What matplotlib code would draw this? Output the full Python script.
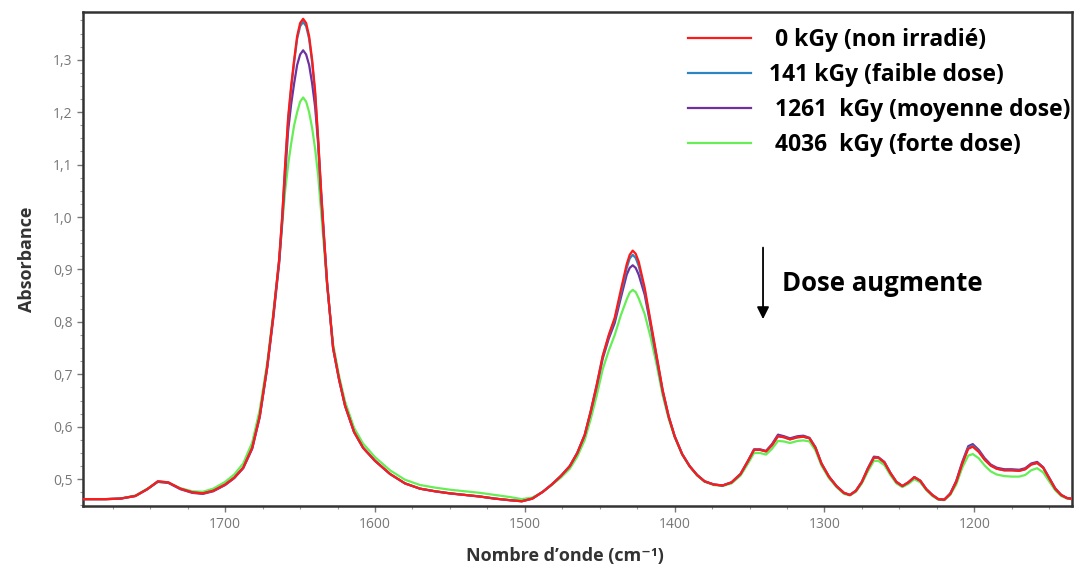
import matplotlib
matplotlib.use("Agg")
from matplotlib import pyplot as plt
from matplotlib.ticker import FuncFormatter, MultipleLocator

# --- Spectres IR (nombre d'onde en cm-1, absorbance) ---
wavenumber = [
    1795, 1780, 1770, 1760, 1752, 1745, 1738, 1730, 1722, 1715, 1708, 1700,
    1694, 1688, 1682, 1677, 1672, 1668,
    1664, 1662, 1660, 1658, 1656, 1654, 1652, 1650, 1648, 1646, 1644, 1642,
    1640, 1638, 1636, 1634, 1632,
    1628, 1624, 1620, 1614, 1608, 1600, 1590, 1580, 1570,
    1560, 1550, 1540, 1530, 1520, 1510, 1502, 1495, 1488, 1482, 1476, 1470,
    1465, 1460, 1456, 1452, 1448, 1444, 1440, 1436, 1432, 1430, 1428, 1426,
    1424, 1420,
    1416, 1412, 1408, 1404, 1400, 1395, 1390, 1385, 1380, 1374, 1368, 1362,
    1356, 1351, 1347, 1343, 1339, 1335, 1331, 1327, 1323, 1318, 1314, 1310,
    1306, 1302, 1297, 1292, 1287, 1283, 1279, 1275, 1271, 1267, 1264, 1260,
    1256, 1252, 1248, 1244, 1240, 1236, 1232, 1228, 1224, 1220, 1216, 1212,
    1208, 1204, 1201, 1197, 1193, 1189, 1185, 1180, 1175, 1170, 1166, 1162,
    1158, 1154, 1150, 1146, 1142, 1138, 1135,
]

abs_0kgy = [
    0.462, 0.462, 0.463, 0.468, 0.481, 0.496, 0.494, 0.482, 0.475, 0.473, 0.478, 0.490,
    0.503, 0.522, 0.560, 0.620, 0.714, 0.810,
    0.920, 1.000, 1.100, 1.190, 1.250, 1.300, 1.345, 1.370, 1.378, 1.370, 1.345, 1.300,
    1.240, 1.150, 1.050, 0.960, 0.875,
    0.750, 0.690, 0.640, 0.590, 0.560, 0.535, 0.510, 0.492, 0.482,
    0.477, 0.473, 0.470, 0.467, 0.463, 0.460, 0.458, 0.463, 0.476, 0.490, 0.506, 0.525,
    0.550, 0.585, 0.630, 0.680, 0.735, 0.775, 0.808, 0.860, 0.910, 0.928, 0.936, 0.930,
    0.915, 0.865,
    0.800, 0.735, 0.670, 0.620, 0.582, 0.548, 0.525, 0.508, 0.496, 0.490, 0.488, 0.494,
    0.510, 0.535, 0.556, 0.556, 0.553, 0.565, 0.582, 0.580, 0.576, 0.580, 0.581, 0.578,
    0.560, 0.530, 0.505, 0.487, 0.474, 0.470, 0.478, 0.495, 0.520, 0.541, 0.541, 0.532,
    0.512, 0.495, 0.487, 0.494, 0.504, 0.497, 0.481, 0.470, 0.462, 0.461, 0.472, 0.495,
    0.530, 0.558, 0.562, 0.552, 0.537, 0.526, 0.520, 0.517, 0.517, 0.516, 0.519, 0.528,
    0.531, 0.522, 0.502, 0.482, 0.470, 0.464, 0.463,
]

abs_141kgy = [
    0.462, 0.462, 0.463, 0.468, 0.481, 0.496, 0.494, 0.482, 0.475, 0.473, 0.478, 0.490,
    0.503, 0.522, 0.560, 0.620, 0.714, 0.810,
    0.918, 0.998, 1.097, 1.185, 1.245, 1.295, 1.340, 1.364, 1.372, 1.364, 1.340, 1.295,
    1.235, 1.147, 1.048, 0.958, 0.875,
    0.750, 0.690, 0.640, 0.590, 0.560, 0.535, 0.510, 0.492, 0.482,
    0.477, 0.473, 0.470, 0.467, 0.463, 0.460, 0.458, 0.463, 0.476, 0.490, 0.506, 0.525,
    0.550, 0.585, 0.630, 0.680, 0.735, 0.773, 0.805, 0.853, 0.903, 0.921, 0.928, 0.922,
    0.907, 0.860,
    0.797, 0.733, 0.669, 0.620, 0.582, 0.548, 0.525, 0.508, 0.496, 0.490, 0.488, 0.494,
    0.510, 0.535, 0.556, 0.556, 0.553, 0.565, 0.582, 0.580, 0.576, 0.580, 0.581, 0.578,
    0.560, 0.530, 0.505, 0.487, 0.474, 0.470, 0.478, 0.495, 0.520, 0.541, 0.541, 0.532,
    0.512, 0.495, 0.487, 0.494, 0.504, 0.497, 0.481, 0.470, 0.462, 0.461, 0.472, 0.495,
    0.530, 0.560, 0.564, 0.553, 0.537, 0.526, 0.520, 0.517, 0.517, 0.516, 0.519, 0.528,
    0.531, 0.522, 0.502, 0.482, 0.470, 0.464, 0.463,
]

abs_1261kgy = [
    0.462, 0.462, 0.463, 0.468, 0.481, 0.495, 0.493, 0.481, 0.474, 0.472, 0.477, 0.489,
    0.502, 0.521, 0.558, 0.618, 0.712, 0.805,
    0.912, 0.990, 1.080, 1.165, 1.215, 1.255, 1.290, 1.310, 1.318, 1.310, 1.290, 1.255,
    1.210, 1.140, 1.040, 0.955, 0.872,
    0.750, 0.690, 0.640, 0.590, 0.560, 0.535, 0.510, 0.492, 0.482,
    0.477, 0.473, 0.470, 0.467, 0.463, 0.460, 0.458, 0.463, 0.476, 0.490, 0.506, 0.525,
    0.550, 0.584, 0.628, 0.677, 0.730, 0.768, 0.798, 0.845, 0.890, 0.903, 0.908, 0.903,
    0.890, 0.852,
    0.792, 0.730, 0.667, 0.619, 0.582, 0.548, 0.525, 0.508, 0.496, 0.490, 0.488, 0.494,
    0.510, 0.535, 0.557, 0.557, 0.554, 0.567, 0.585, 0.582, 0.578, 0.582, 0.583, 0.579,
    0.561, 0.530, 0.505, 0.487, 0.474, 0.470, 0.478, 0.495, 0.521, 0.543, 0.542, 0.533,
    0.512, 0.495, 0.487, 0.494, 0.504, 0.497, 0.481, 0.470, 0.462, 0.461, 0.473, 0.497,
    0.533, 0.563, 0.567, 0.556, 0.540, 0.528, 0.522, 0.519, 0.519, 0.518, 0.521, 0.530,
    0.533, 0.523, 0.503, 0.483, 0.470, 0.464, 0.463,
]

abs_4036kgy = [
    0.462, 0.462, 0.463, 0.469, 0.482, 0.495, 0.493, 0.483, 0.477, 0.476, 0.482, 0.495,
    0.509, 0.530, 0.570, 0.632, 0.722, 0.815,
    0.915, 0.985, 1.050, 1.100, 1.140, 1.175, 1.200, 1.220, 1.228, 1.220, 1.200, 1.170,
    1.130, 1.080, 1.010, 0.940, 0.870,
    0.758, 0.697, 0.648, 0.598, 0.568, 0.542, 0.517, 0.499, 0.489,
    0.484, 0.480, 0.477, 0.474, 0.470, 0.466, 0.462, 0.465, 0.476, 0.489, 0.503, 0.520,
    0.543, 0.575, 0.615, 0.660, 0.710, 0.745, 0.775, 0.812, 0.843, 0.856, 0.861, 0.857,
    0.845, 0.815,
    0.770, 0.718, 0.660, 0.615, 0.580, 0.547, 0.524, 0.507, 0.495, 0.489, 0.487, 0.492,
    0.507, 0.530, 0.550, 0.550, 0.547, 0.558, 0.573, 0.572, 0.569, 0.573, 0.574, 0.572,
    0.555, 0.526, 0.502, 0.485, 0.472, 0.469, 0.476, 0.492, 0.515, 0.535, 0.535, 0.527,
    0.508, 0.492, 0.485, 0.491, 0.500, 0.494, 0.479, 0.468, 0.461, 0.460, 0.470, 0.490,
    0.522, 0.545, 0.548, 0.540, 0.526, 0.515, 0.509, 0.506, 0.505, 0.505, 0.508, 0.517,
    0.521, 0.513, 0.496, 0.479, 0.468, 0.463, 0.462,
]

series_labels = [
    " 0 kGy (non irradié)",
    "141 kGy (faible dose)",
    " 1261  kGy (moyenne dose)",
    " 4036  kGy (forte dose)",
]
series_colors = ["#ff1a1a", "#2e86c1", "#7030a0", "#66ee55"]

fig = plt.figure(figsize=(10.77, 5.72), dpi=100)
ax = fig.add_axes([0.077, 0.115, 0.918, 0.864])

series = [abs_0kgy, abs_141kgy, abs_1261kgy, abs_4036kgy]
handles = [None] * 4
for i in [3, 2, 1, 0]:
    line, = ax.plot(wavenumber, series[i], color=series_colors[i], lw=1.6,
                    label=series_labels[i], zorder=2 + (3 - i))
    handles[i] = line

ax.set_xlim(1795, 1135)
ax.set_ylim(0.4485, 1.391)

ax.xaxis.set_major_locator(MultipleLocator(100))
ax.xaxis.set_minor_locator(MultipleLocator(25))
ax.yaxis.set_major_locator(MultipleLocator(0.1))
ax.yaxis.set_minor_locator(MultipleLocator(0.025))
ax.yaxis.set_major_formatter(FuncFormatter(lambda v, p: f"{v:.1f}".replace(".", ",")))
ax.xaxis.set_major_formatter(FuncFormatter(lambda v, p: f"{v:.0f}"))

ax.tick_params(which="major", length=4, width=1, color="#777777",
               labelcolor="#777777", labelsize=10)
ax.tick_params(which="minor", length=2, width=0.8, color="#999999")
for lab in ax.get_xticklabels() + ax.get_yticklabels():
    lab.set_family(["Open Sans", "DejaVu Sans"])
for sp in ax.spines.values():
    sp.set_color("#333333")
    sp.set_linewidth(1.8)

font_lbl = ["Open Sans", "DejaVu Sans"]
ax.set_xlabel("Nombre d’onde (cm⁻¹)", fontsize=13, fontweight="bold",
              family=font_lbl, color="#333333")
ax.xaxis.set_label_coords(0.488, -0.082)
ax.set_ylabel("Absorbance", fontsize=13, fontweight="bold",
              family=font_lbl, color="#333333", labelpad=12)

leg = ax.legend(handles=handles, loc="upper left", bbox_to_anchor=(0.612, 0.968),
                frameon=False, handlelength=2.75, handletextpad=0.8,
                labelspacing=0.48, borderpad=0, borderaxespad=0,
                prop={"family": font_lbl, "weight": "bold", "size": 16.5})

ax.annotate("", xy=(1341, 0.80), xytext=(1341, 0.947),
            arrowprops=dict(arrowstyle="-|>", color="black", lw=1.3, mutation_scale=18))
ax.text(1328, 0.874, "Dose augmente", fontsize=18.5, fontweight="bold",
        family=font_lbl, va="center", ha="left")

fig.savefig("out.png", dpi=100)
